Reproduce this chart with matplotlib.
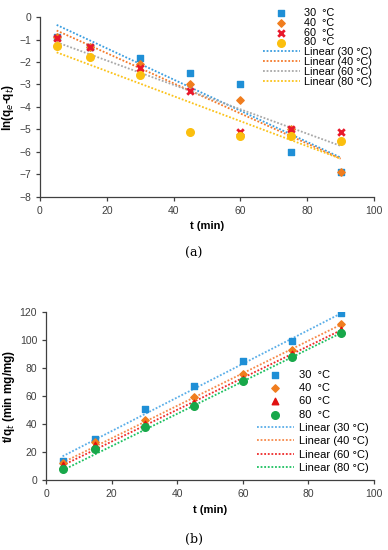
import numpy as np
import matplotlib.pyplot as plt
from matplotlib.lines import Line2D

plt.rcParams['font.family'] = ['Liberation Sans', 'DejaVu Sans']

# Data
t = [5, 15, 30, 45, 60, 75, 90]
labels = ['30  °C', '40  °C', '60  °C', '80  °C']
fit_labels = ['30 °C', '40 °C', '60 °C', '80 °C']

# (a) pseudo-first-order
ln_30 = [-0.9, -1.35, -1.8, -2.5, -3.0, -6.0, -6.9]
ln_40 = [-0.9, -1.35, -2.1, -3.0, -3.7, -5.0, -6.9]
ln_60 = [-0.93, -1.35, -2.25, -3.3, -5.1, -4.97, -5.1]
ln_80 = [-1.3, -1.77, -2.57, -5.1, -5.3, -5.3, -5.5]
fit_t = [5, 90]
fit_a_30 = [-0.35, -6.25]
fit_a_40 = [-0.6, -6.3]
fit_a_60 = [-1.12, -5.73]
fit_a_80 = [-1.57, -6.3]

# (b) pseudo-second-order
tq_30 = [13.5, 29, 51, 67, 85, 99, 119]
tq_40 = [12, 27, 43, 59, 76, 93, 111]
tq_60 = [11, 25, 40, 55, 72, 90, 107]
tq_80 = [8, 22, 38, 53, 71, 88, 105]
fit_b_30 = [17, 119]
fit_b_40 = [12.5, 111]
fit_b_60 = [10.5, 107]
fit_b_80 = [7, 105]

fig = plt.figure(figsize=(3.88, 5.5), dpi=100)

def style(ax):
    for s in ['top', 'right']:
        ax.spines[s].set_visible(False)
    for s in ['left', 'bottom']:
        ax.spines[s].set_color('#404040')
        ax.spines[s].set_linewidth(0.9)
    ax.tick_params(labelsize=7.5, colors='#404040', length=3, width=0.9)
    ax.set_xlim(0, 100)
    ax.set_xticks(range(0, 101, 20))

# ---- (a)
ax1 = fig.add_axes([0.103, 0.642, 0.861, 0.327])
style(ax1)
m_cols = ['#1f8fd6', '#f07d1e', '#e8192c', '#fbbf0e']
ax1.scatter(t, ln_30, marker='s', s=24, color=m_cols[0], label=labels[0], zorder=3)
ax1.scatter(t, ln_40, marker='D', s=14, color=m_cols[1], label=labels[1], zorder=3)
ax1.scatter(t, ln_60, marker='x', s=22, color=m_cols[2], linewidths=2, label=labels[2], zorder=3)
ax1.scatter(t, ln_80, marker='o', s=30, color=m_cols[3], label=labels[3], zorder=3)
l_cols = ['#3a9ee0', '#f47a2a', '#a8a8a8', '#fbc21a']
for fit, c, lab in zip([fit_a_30, fit_a_40, fit_a_60, fit_a_80], l_cols, fit_labels):
    ax1.plot(fit_t, fit, ls=(0, (1, 1)), lw=1.3, color=c, label='Linear (' + lab + ')')
ax1.set_ylim(-8, 0)
ax1.set_yticks(range(-8, 1))
ax1.set_xlabel('t (min)', fontsize=8, fontweight='bold', labelpad=4)
ax1.set_ylabel('ln(q$_e$-q$_t$)', fontsize=8.5, fontweight='bold', labelpad=2)
ax1.legend(loc='upper right', bbox_to_anchor=(1.01, 1.08), fontsize=7.8, frameon=False,
           handlelength=3.4, handletextpad=0.4, labelspacing=-0.02, borderpad=0)
fig.text(0.5, 0.532, '(a)', ha='center', fontsize=9, family='DejaVu Serif')

# ---- (b)
ax2 = fig.add_axes([0.119, 0.127, 0.845, 0.306])
style(ax2)
m_cols_b = ['#1f8fd6', '#f07d1e', '#e01010', '#18a84a']
ax2.scatter(t, tq_30, marker='s', s=24, color=m_cols_b[0], label=labels[0], zorder=3)
ax2.scatter(t, tq_40, marker='D', s=14, color=m_cols_b[1], label=labels[1], zorder=3)
ax2.scatter(t, tq_60, marker='^', s=22, color=m_cols_b[2], label=labels[2], zorder=3)
ax2.scatter(t, tq_80, marker='o', s=30, color=m_cols_b[3], label=labels[3], zorder=3)
l_cols_b = ['#5aaee8', '#f7894a', '#ee2a2a', '#1cc060']
for fit, c, lab in zip([fit_b_30, fit_b_40, fit_b_60, fit_b_80], l_cols_b, fit_labels):
    ax2.plot(fit_t, fit, ls=(0, (1, 1)), lw=1.3, color=c, label='Linear (' + lab + ')')
ax2.set_ylim(0, 120)
ax2.set_yticks(range(0, 121, 20))
ax2.set_xlabel('t (min)', fontsize=8, fontweight='bold', labelpad=4)
ax2.set_ylabel('t/q$_t$ (min mg/mg)', fontsize=8.5, fontweight='bold', labelpad=2)
ax2.legend(loc='lower right', bbox_to_anchor=(1.0, 0.01), fontsize=8, frameon=False,
           handlelength=3.4, handletextpad=0.4, labelspacing=0.3, borderpad=0)
fig.text(0.5, 0.013, '(b)', ha='center', fontsize=9, family='DejaVu Serif')

fig.savefig('out.png', dpi=100)
